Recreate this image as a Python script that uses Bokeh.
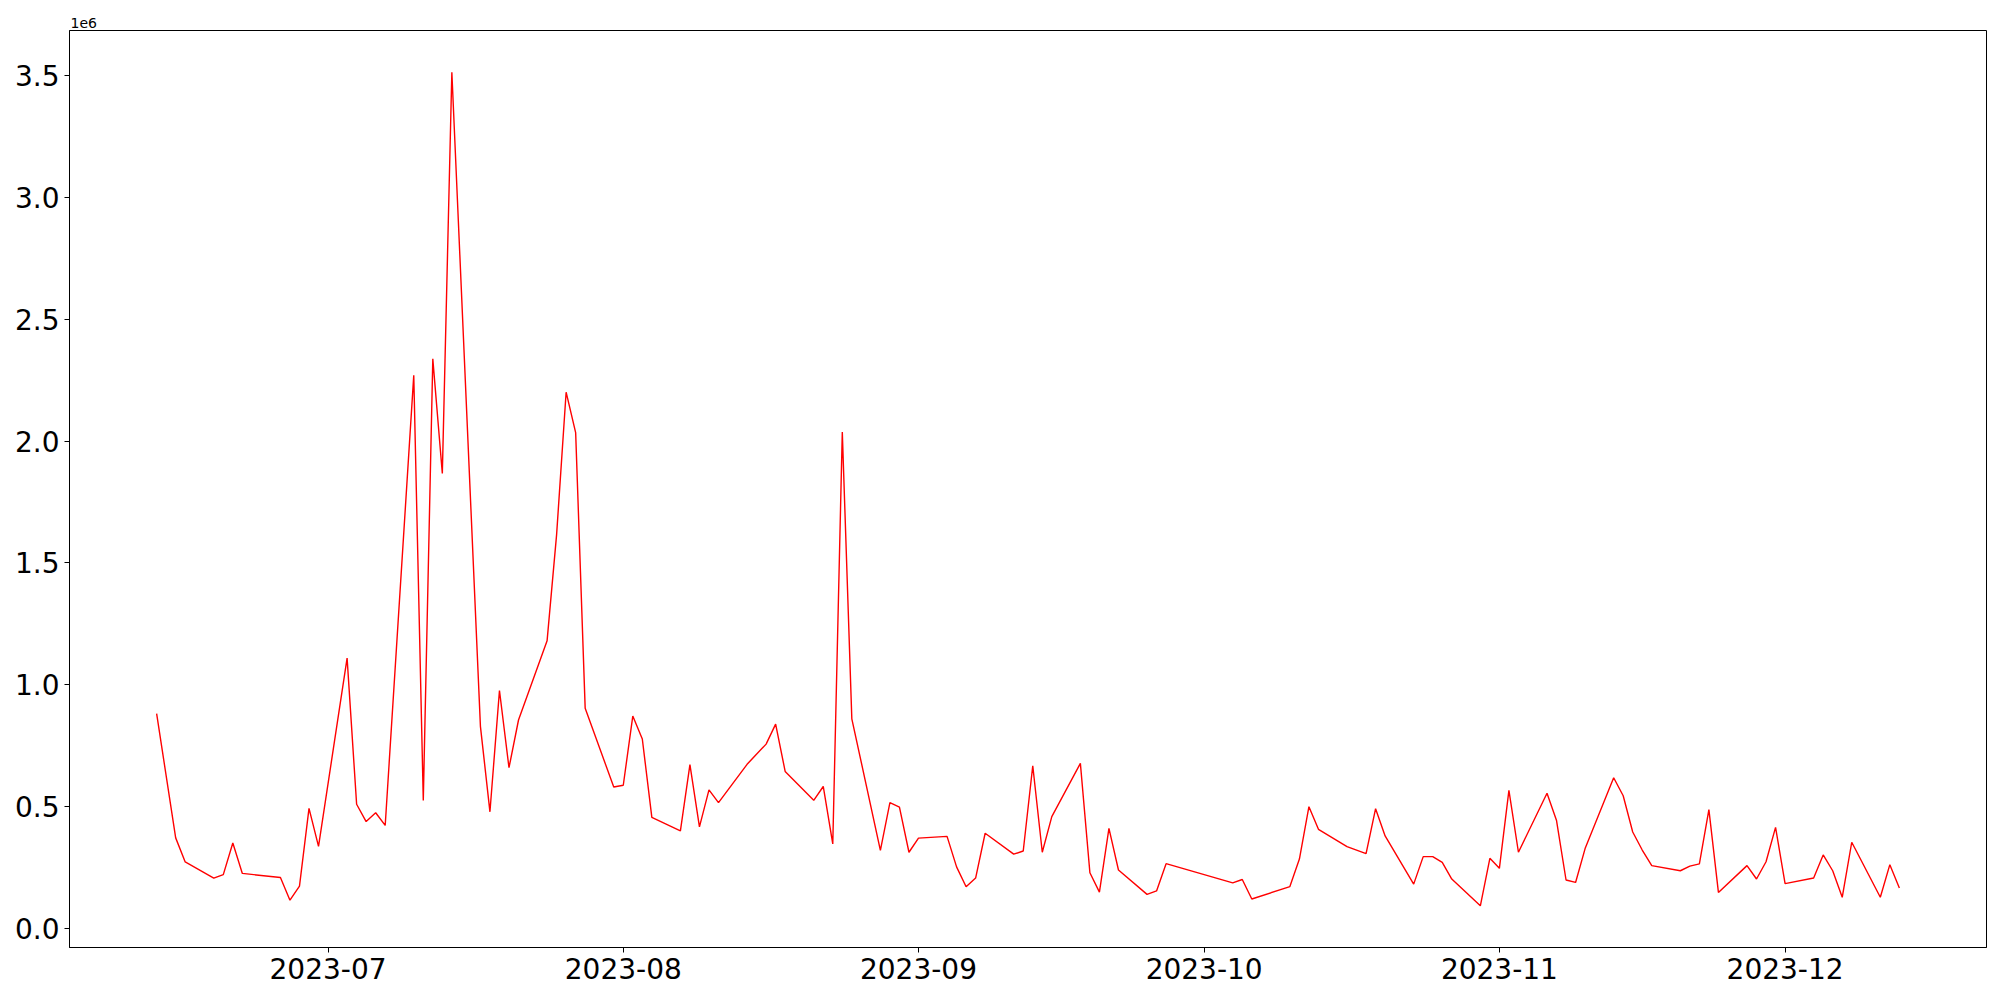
from datetime import datetime
from bokeh.plotting import figure
from bokeh.models import Range1d, FixedTicker, CustomJSTickFormatter, DatetimeTickFormatter
from bokeh.embed import file_html
from bokeh.resources import INLINE

dates = [
    "2023-06-13", "2023-06-15", "2023-06-16", "2023-06-19", "2023-06-20", "2023-06-21", "2023-06-22",
    "2023-06-26", "2023-06-27", "2023-06-28", "2023-06-29", "2023-06-30",
    "2023-07-03", "2023-07-04", "2023-07-05", "2023-07-06", "2023-07-07",
    "2023-07-10", "2023-07-11", "2023-07-12", "2023-07-13", "2023-07-14",
    "2023-07-17", "2023-07-18", "2023-07-19", "2023-07-20", "2023-07-21",
    "2023-07-24", "2023-07-25", "2023-07-26", "2023-07-27", "2023-07-28",
    "2023-07-31", "2023-08-01", "2023-08-02", "2023-08-03", "2023-08-04",
    "2023-08-07", "2023-08-08", "2023-08-09", "2023-08-10", "2023-08-11",
    "2023-08-14", "2023-08-16", "2023-08-17", "2023-08-18",
    "2023-08-21", "2023-08-22", "2023-08-23", "2023-08-24", "2023-08-25",
    "2023-08-28", "2023-08-29", "2023-08-30", "2023-08-31", "2023-09-01",
    "2023-09-04", "2023-09-05", "2023-09-06", "2023-09-07", "2023-09-08",
    "2023-09-11", "2023-09-12", "2023-09-13", "2023-09-14", "2023-09-15",
    "2023-09-18", "2023-09-19", "2023-09-20", "2023-09-21", "2023-09-22",
    "2023-09-25", "2023-09-26", "2023-09-27",
    "2023-10-04", "2023-10-05", "2023-10-06",
    "2023-10-10", "2023-10-11", "2023-10-12", "2023-10-13",
    "2023-10-16", "2023-10-18", "2023-10-19", "2023-10-20",
    "2023-10-23", "2023-10-24", "2023-10-25", "2023-10-26", "2023-10-27",
    "2023-10-30", "2023-10-31", "2023-11-01", "2023-11-02", "2023-11-03",
    "2023-11-06", "2023-11-07", "2023-11-08", "2023-11-09", "2023-11-10",
    "2023-11-13", "2023-11-14", "2023-11-15", "2023-11-16", "2023-11-17",
    "2023-11-20", "2023-11-21", "2023-11-22", "2023-11-23", "2023-11-24",
    "2023-11-27", "2023-11-28", "2023-11-29", "2023-11-30", "2023-12-01",
    "2023-12-04", "2023-12-05", "2023-12-06", "2023-12-07", "2023-12-08",
    "2023-12-11", "2023-12-12", "2023-12-13",
]

values = [
    881000, 371000, 272000, 206000, 220000, 350000, 225000,
    208000, 115000, 173000, 492000, 336000,
    1109000, 509000, 438000, 474000, 422000,
    2270000, 525000, 2338000, 1867000, 3515000,
    829000, 478000, 976000, 659000, 855000,
    1180000, 1616000, 2201000, 2035000, 903000,
    580000, 587000, 871000, 777000, 455000,
    400000, 672000, 416000, 568000, 516000,
    673000, 756000, 838000, 644000,
    525000, 582000, 346000, 2037000, 860000,
    320000, 516000, 497000, 312000, 370000,
    377000, 252000, 170000, 206000, 390000,
    304000, 317000, 667000, 312000, 458000,
    677000, 228000, 148000, 410000, 239000,
    139000, 153000, 265000,
    186000, 200000, 120000,
    171000, 284000, 499000, 406000,
    335000, 306000, 491000, 379000,
    181000, 294000, 294000, 270000, 202000,
    92000, 287000, 246000, 566000, 312000,
    554000, 442000, 198000, 188000, 327000,
    618000, 544000, 395000, 321000, 257000,
    236000, 255000, 264000, 487000, 147000,
    257000, 202000, 273000, 414000, 183000,
    206000, 301000, 236000, 127000, 353000,
    127000, 261000, 165000,
]

month_ticks = ["2023-07-01", "2023-08-01", "2023-09-01", "2023-10-01", "2023-11-01", "2023-12-01"]
y_ticks = [0, 500000, 1000000, 1500000, 2000000, 2500000, 3000000, 3500000]

x = [datetime.strptime(d, "%Y-%m-%d") for d in dates]
xmin, xmax = min(x), max(x)
xpad = (xmax - xmin) * 0.05
ymin, ymax = min(values), max(values)
ypad = (ymax - ymin) * 0.05

p = figure(
    x_axis_type="datetime",
    frame_width=1917, frame_height=917,
    min_border_left=69, min_border_right=6, min_border_top=30, min_border_bottom=45,
    x_range=Range1d(xmin - xpad, xmax + xpad),
    y_range=Range1d(ymin - ypad, ymax + ypad),
    output_backend="svg", toolbar_location=None,
)

p.line(x, values, line_color="red", line_width=1.4)

epoch = datetime(1970, 1, 1)
tick_ms = [(datetime.strptime(t, "%Y-%m-%d") - epoch).total_seconds() * 1000 for t in month_ticks]
p.xaxis.ticker = FixedTicker(ticks=tick_ms)
fmt = "%Y-%m"
p.xaxis.formatter = DatetimeTickFormatter(
    milliseconds=fmt, seconds=fmt, minsec=fmt, minutes=fmt, hourmin=fmt, hours=fmt,
    days=fmt, months=fmt, years=fmt)
p.yaxis.ticker = FixedTicker(ticks=y_ticks)
p.yaxis.formatter = CustomJSTickFormatter(code="return (tick/1e6).toFixed(1);")

for ax in (p.xaxis[0], p.yaxis[0]):
    ax.major_label_text_font = "DejaVu Sans"
    ax.major_label_text_font_size = "28px"
    ax.major_label_text_color = "black"
    ax.major_tick_out = 5
    ax.major_tick_in = 0
    ax.minor_tick_out = 0
    ax.minor_tick_in = 0
    ax.major_tick_line_color = "black"
    ax.major_tick_line_width = 1
    ax.axis_line_color = "black"
    ax.axis_line_width = 1
    ax.major_label_standoff = 5

p.xgrid.visible = False
p.ygrid.visible = False
p.outline_line_color = "black"
p.outline_line_width = 1
p.outline_line_alpha = 1
p.background_fill_color = "white"
p.border_fill_color = "white"

p.title.text = "1e6"
p.title.text_font = "DejaVu Sans"
p.title.text_font_size = "14px"
p.title.text_font_style = "normal"
p.title.text_color = "black"
p.title.align = "left"
p.title.standoff = 6
p.title.offset = 1

open("out.html", "w").write(file_html(p, INLINE))
